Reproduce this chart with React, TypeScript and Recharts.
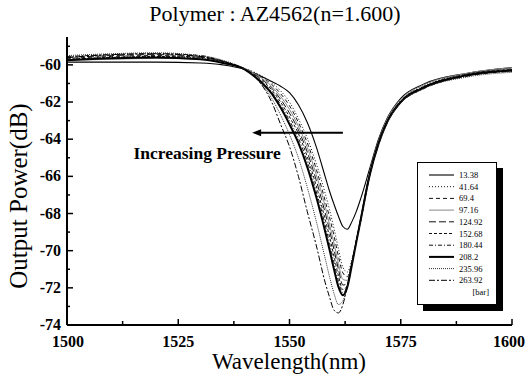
import React from "react";
import { LineChart, Line, XAxis, YAxis, ReferenceLine } from "recharts";

const wavelengths = [1500, 1510, 1520, 1530, 1535, 1540, 1543, 1546, 1548, 1550, 1552, 1554, 1556, 1558, 1559, 1560, 1561, 1562, 1563, 1564, 1565, 1566, 1568, 1570, 1572, 1575, 1580, 1590, 1600];

const p1338 = [-59.85, -59.85, -59.85, -59.9, -60.0, -60.25, -60.55, -60.9, -61.15, -61.5, -62.15, -63.1, -64.4, -66.0, -66.8, -67.5, -68.15, -68.7, -68.85, -68.45, -67.9, -67.2, -65.6, -64.0, -62.85, -61.8, -61.05, -60.45, -60.15];
const p4164 = [-59.7, -59.6, -59.55, -59.65, -59.85, -60.2, -60.5, -60.95, -61.4, -62.0, -62.9, -63.95, -65.3, -66.9, -67.8, -68.8, -69.9, -70.9, -71.15, -70.5, -69.45, -68.25, -65.85, -64.15, -62.95, -61.9, -61.15, -60.5, -60.2];
const p694 = [-59.65, -59.55, -59.5, -59.6, -59.85, -60.2, -60.55, -61.05, -61.55, -62.2, -63.1, -64.2, -65.6, -67.3, -68.2, -69.2, -70.3, -71.2, -71.4, -70.6, -69.45, -68.3, -65.9, -64.2, -63.0, -61.95, -61.2, -60.55, -60.25];
const p9716 = [-59.75, -59.7, -59.65, -59.7, -59.9, -60.2, -60.6, -61.15, -61.7, -62.4, -63.3, -64.45, -65.9, -67.6, -68.6, -69.6, -70.7, -71.55, -71.6, -70.65, -69.5, -68.2, -65.8, -64.1, -62.9, -61.85, -61.1, -60.45, -60.15];
const p12492 = [-59.6, -59.5, -59.45, -59.55, -59.8, -60.25, -60.65, -61.25, -61.85, -62.6, -63.5, -64.7, -66.2, -67.95, -68.9, -69.95, -71.0, -71.85, -71.75, -70.7, -69.5, -68.35, -65.95, -64.25, -63.05, -62.0, -61.25, -60.6, -60.3];
const p15268 = [-59.7, -59.6, -59.55, -59.6, -59.85, -60.25, -60.7, -61.35, -62.0, -62.8, -63.7, -64.95, -66.5, -68.3, -69.25, -70.3, -71.35, -72.1, -71.85, -70.75, -69.5, -68.3, -65.9, -64.2, -63.0, -61.95, -61.2, -60.5, -60.25];
const p18044 = [-59.55, -59.45, -59.4, -59.5, -59.8, -60.25, -60.75, -61.45, -62.15, -63.0, -63.95, -65.2, -66.8, -68.6, -69.6, -70.65, -71.65, -72.25, -71.9, -70.75, -69.5, -68.4, -66.0, -64.3, -63.1, -62.05, -61.3, -60.6, -60.35];
const p2082 = [-59.75, -59.65, -59.6, -59.7, -59.9, -60.25, -60.8, -61.55, -62.3, -63.2, -64.2, -65.5, -67.1, -68.95, -69.95, -71.0, -71.95, -72.4, -71.95, -70.8, -69.55, -68.35, -65.95, -64.25, -63.05, -62.0, -61.25, -60.55, -60.3];
const p23596 = [-59.5, -59.4, -59.35, -59.5, -59.75, -60.25, -60.85, -61.8, -62.7, -63.75, -65.0, -66.6, -68.4, -70.4, -71.4, -72.3, -72.9, -72.7, -71.9, -70.75, -69.5, -68.4, -66.0, -64.3, -63.1, -62.05, -61.3, -60.65, -60.4];
const p26392 = [-59.6, -59.45, -59.4, -59.55, -59.8, -60.25, -60.85, -62.0, -63.2, -64.4, -66.0, -67.9, -69.7, -71.7, -72.5, -73.2, -73.35, -72.9, -71.9, -70.7, -69.5, -68.3, -65.9, -64.2, -63.0, -61.95, -61.2, -60.55, -60.3];

const pressures = ["13.38", "41.64", "69.4", "97.16", "124.92", "152.68", "180.44", "208.2", "235.96", "263.92"];
const seriesValues = [p1338, p4164, p694, p9716, p12492, p15268, p18044, p2082, p23596, p26392];

const yTicks = [-74, -73, -72, -71, -70, -69, -68, -67, -66, -65, -64, -63, -62, -61, -60, -59];
const xTicks = [1500, 1512.5, 1525, 1537.5, 1550, 1562.5, 1575, 1587.5, 1600];

// line styles, same order as pressures
const styles = [
  { dash: "", width: 1.1, color: "#000" },
  { dash: "1 2", width: 1, color: "#111" },
  { dash: "4 3", width: 1, color: "#111" },
  { dash: "", width: 1, color: "#888" },
  { dash: "7 3", width: 1, color: "#111" },
  { dash: "3 2", width: 1, color: "#111" },
  { dash: "4 2 1 2", width: 1, color: "#111" },
  { dash: "", width: 2, color: "#000" },
  { dash: "1 1", width: 1, color: "#333" },
  { dash: "6 2 2 2", width: 1, color: "#000" },
];

const rows = wavelengths.map((w, i) => {
  const r: Record<string, number> = { w };
  seriesValues.forEach((s, k) => (r["s" + k] = s[i]));
  return r;
});

const serif = "Times New Roman, Liberation Serif, DejaVu Serif, serif";

const YTick = ({ x, y, payload }: any) => {
  const major = payload.value % 2 === 0;
  return (
    <g>
      <line x1={x} x2={x + (major ? 6 : 3)} y1={y} y2={y} stroke="#000" strokeWidth={1.5} />
      {major && (
        <text x={x - 6} y={y} dy={5} textAnchor="end" fontFamily={serif} fontWeight="bold" fontSize={16} fill="#000">
          {payload.value}
        </text>
      )}
    </g>
  );
};

const XTick = ({ x, y, payload }: any) => {
  const major = (payload.value - 1500) % 25 === 0;
  const shift = payload.value === 1600 ? -3 : payload.value === 1500 ? 1 : 0;
  return (
    <g>
      <line x1={x} x2={x} y1={y} y2={y - (major ? 6 : 4)} stroke="#000" strokeWidth={1.5} />
      {major && (
        <text x={x + shift} y={y + 22} textAnchor="middle" fontFamily={serif} fontWeight="bold" fontSize={16} fill="#000">
          {payload.value}
        </text>
      )}
    </g>
  );
};

const Arrow = (props: any) => {
  const { x1, y1, x2 } = props;
  return (
    <g>
      <line x1={x1} y1={y1} x2={x2 + 6} y2={y1} stroke="#000" strokeWidth={2} />
      <polygon points={`${x2},${y1} ${x2 + 9},${y1 - 3.5} ${x2 + 9},${y1 + 3.5}`} fill="#000" />
      <text x={x2 - 45} y={y1 + 26} textAnchor="middle" fontFamily={serif} fontWeight="bold" fontSize={17.5} fill="#000">
        Increasing Pressure
      </text>
    </g>
  );
};

const Legend = () => (
  <div
    style={{
      position: "absolute",
      left: 417,
      top: 162,
      width: 78,
      height: 141,
      background: "#fff",
      border: "1px solid #000",
      boxShadow: "6px 6px 0 #000",
    }}
  >
    <svg width={78} height={141}>
      {pressures.map((p, i) => (
        <g key={p}>
          <line
            x1={11}
            x2={36}
            y1={12 + i * 11.7}
            y2={12 + i * 11.7}
            stroke={styles[i].color}
            strokeWidth={styles[i].width}
            strokeDasharray={styles[i].dash}
          />
          <text x={41} y={12 + i * 11.7 + 3} fontFamily={serif} fontSize={8.5} fill="#000">
            {p}
          </text>
        </g>
      ))}
      <text x={71} y={12 + 10 * 11.7 + 3} textAnchor="end" fontFamily={serif} fontSize={8.5} fill="#000">
        [bar]
      </text>
    </svg>
  </div>
);

export default function App() {
  return (
    <div style={{ position: "absolute", left: 0, top: 0, width: 525, height: 386, background: "#fff" }}>
      <div style={{ position: "absolute", left: 275, top: 1, transform: "translateX(-50%)", fontFamily: serif, fontSize: 22, whiteSpace: "nowrap" }}>
        Polymer : AZ4562(n=1.600)
      </div>
      <LineChart width={525} height={386} data={rows} margin={{ top: 37, right: 13, left: 0, bottom: 0 }}>
        <XAxis
          dataKey="w"
          type="number"
          domain={[1500, 1600]}
          ticks={xTicks}
          interval={0}
          height={61}
          tickSize={0}
          tickMargin={0}
          tick={<XTick />}
          axisLine={{ stroke: "#000", strokeWidth: 2 }}
          tickLine={false}
        />
        <XAxis xAxisId="top" orientation="top" type="number" domain={[0, 1]} height={0} tick={false} tickLine={false} axisLine={{ stroke: "#000", strokeWidth: 2 }} />
        <YAxis
          type="number"
          domain={[-74, -58.5]}
          ticks={yTicks}
          interval={0}
          width={67}
          tickSize={0}
          tickMargin={0}
          tick={<YTick />}
          axisLine={{ stroke: "#000", strokeWidth: 2 }}
          tickLine={false}
          allowDataOverflow
        />
        <YAxis yAxisId="right" orientation="right" type="number" domain={[0, 1]} width={0} tick={false} tickLine={false} axisLine={{ stroke: "#000", strokeWidth: 2 }} />
        {pressures.map((p, i) => (
          <Line
            key={p}
            dataKey={"s" + i}
            name={p}
            type="monotone"
            dot={false}
            stroke={styles[i].color}
            strokeWidth={styles[i].width}
            strokeDasharray={styles[i].dash}
            isAnimationActive={false}
          />
        ))}
        <ReferenceLine
          segment={[
            { x: 1562, y: -63.65 },
            { x: 1541.6, y: -63.65 },
          ]}
          shape={<Arrow />}
        />
      </LineChart>
      <Legend />
      <div style={{ position: "absolute", left: 289, top: 349, transform: "translateX(-50%)", fontFamily: serif, fontSize: 23, whiteSpace: "nowrap" }}>
        Wavelength(nm)
      </div>
      <div
        style={{
          position: "absolute",
          left: 19,
          top: 196,
          transform: "translate(-50%, -50%) rotate(-90deg)",
          fontFamily: serif,
          fontSize: 25,
          whiteSpace: "nowrap",
        }}
      >
        Output Power(dB)
      </div>
    </div>
  );
}
